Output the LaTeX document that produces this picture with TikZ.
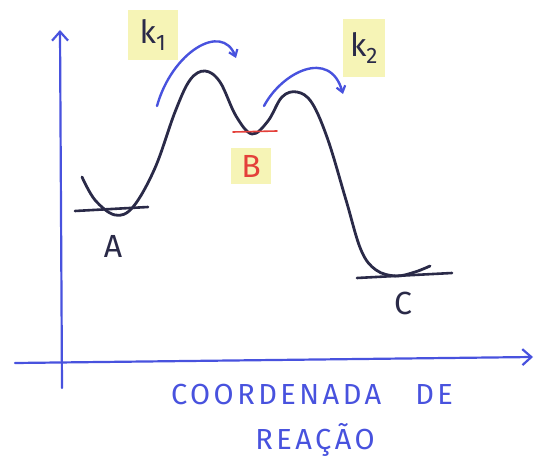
\documentclass[tikz,border=0pt]{standalone}
\usepackage{fontspec}
\setsansfont{Fira Sans}
\usetikzlibrary{arrows.meta,calc}
\definecolor{ink}{RGB}{72,82,222}
\definecolor{pen}{RGB}{42,42,72}
\definecolor{redpen}{RGB}{228,64,58}
\definecolor{hl}{RGB}{246,244,182}

\begin{document}
\begin{tikzpicture}[x=1pt,y=-1pt,line cap=round,line join=round,
    axis/.style={ink,line width=2.2pt,-{Straight Barb[length=9pt,width=16pt,line width=2.2pt]}},
    hop/.style={ink,line width=2.4pt,-{Straight Barb[length=6pt,width=9pt,line width=2.2pt]}},
    level/.style={pen,line width=2.6pt},
    lbl/.style={font=\sffamily\fontsize{32}{34}\selectfont,inner sep=1pt},
    axlbl/.style={ink,font=\sffamily\fontsize{29}{31}\selectfont\addfontfeatures{LetterSpace=12}}]
    \useasboundingbox (0,0) rectangle (546,462);
    % axes
    \coordinate (ybot) at (62,388);
    \coordinate (ytop) at (60,30);
    \coordinate (xleft) at (15,363);
    \coordinate (xright) at (533,357);
    \draw[axis] (ybot) -- (ytop);
    \draw[axis] (xleft) -- (xright);
    % energy profile
    \draw[pen,line width=2.8pt] plot[smooth,tension=0.6] coordinates {
      (82,177) (95,200) (115,215) (133,207) (155,168) (175,112) (190,80)
      (205,71) (220,82) (236,116) (252,134) (268,121) (282,97) (297,92)
      (312,103) (328,140) (346,200) (361,250) (376,270) (396,276) (415,272) (430,266)};
    % levels
    \coordinate (a1) at (75,211);   \coordinate (a2) at (148,207);
    \coordinate (b1) at (233,132);  \coordinate (b2) at (277,131);
    \coordinate (c1) at (357,278);  \coordinate (c2) at (452,273);
    \draw[level] (a1) -- (a2);
    \draw[redpen,line width=1.6pt] (b1) -- (b2);
    \draw[level] (c1) -- (c2);
    \node[lbl,pen] (A) at (113,246) {A};
    \node[lbl,redpen,fill=hl,minimum width=40pt,minimum height=36pt] (B) at (251,166) {B};
    \node[lbl,pen] (C) at (403,303) {C};
    % rate constants
    \node[lbl,pen,fill=hl,minimum width=50pt,minimum height=50pt] (k1) at (153,35) {k\textsubscript{1}};
    \node[lbl,pen,fill=hl,minimum width=42pt,minimum height=58pt] (k2) at (364,48) {k\textsubscript{2}};
    \coordinate (s1) at (157,106);  \coordinate (e1) at (236,58);
    \coordinate (s2) at (264,106);  \coordinate (e2) at (343,94);
    \draw[hop] (s1) .. controls (172,52) and (222,22) .. (e1);
    \draw[hop] (s2) .. controls (282,72) and (330,48) .. (e2);
    % axis label
    \node[axlbl] (xl1) at (312,395) {COORDENADA\hspace{34pt}DE};
    \node[axlbl] (xl2) at (315,440) {REAÇÃO};
\end{tikzpicture}
\end{document}
